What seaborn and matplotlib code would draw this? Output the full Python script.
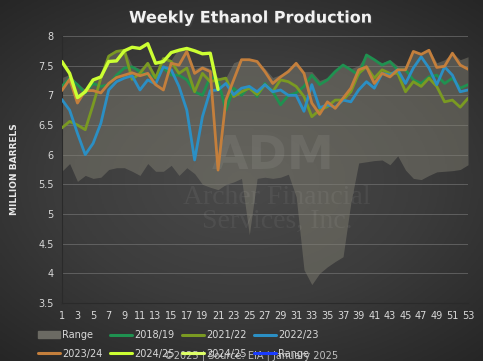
import numpy as np
import pandas as pd
import matplotlib
matplotlib.use("Agg")
import matplotlib.pyplot as plt
import seaborn as sns
from matplotlib.lines import Line2D
from matplotlib.patches import Patch
import matplotlib.patheffects as pe

# haftalik veriler (milyon varil)
weeks = list(range(1, 54))

range_low = [5.72, 5.85, 5.55, 5.65, 5.6, 5.62, 5.75, 5.78, 5.78, 5.72,
             5.65, 5.85, 5.72, 5.72, 5.82, 5.65, 5.78, 5.68, 5.5, 5.45,
             5.41, 5.5, 5.54, 5.6, 4.65, 5.6, 5.62, 5.6, 5.62, 5.67,
             5.29, 4.06, 3.81, 4.0, 4.11, 4.2, 4.28, 5.19, 5.86, 5.88,
             5.9, 5.91, 5.83, 5.98, 5.74, 5.6, 5.58, 5.65, 5.71, 5.72,
             5.73, 5.75, 5.83]
range_high = [7.3, 7.35, 7.2, 7.1, 7.25, 7.35, 7.7, 7.75, 7.78, 7.5,
              7.45, 7.55, 7.35, 7.65, 7.6, 7.8, 7.75, 7.45, 7.5, 7.45,
              7.3, 7.3, 7.55, 7.6, 7.6, 7.57, 7.45, 7.3, 7.35, 7.45,
              7.55, 7.4, 7.4, 7.25, 7.3, 7.4, 7.51, 7.45, 7.5, 7.7,
              7.6, 7.55, 7.6, 7.5, 7.5, 7.75, 7.72, 7.78, 7.55, 7.6,
              7.72, 7.6, 7.65]

y2018 = [7.15, 7.29, 7.18, 7.04, 7.2, 7.15, 7.18, 7.34, 7.46, 7.48,
         7.4, 7.34, 7.31, 7.46, 7.34, 7.34, 7.26, 7.06, 7.0, 7.31,
         7.26, 6.75, 7.12, 7.0, 7.15, 6.98, 7.2, 7.06, 6.84, 7.0,
         7.04, 7.15, 7.34, 7.18, 7.26, 7.4, 7.51, 7.43, 7.34, 7.68,
         7.6, 7.51, 7.57, 7.43, 7.43, 7.26, 7.2, 7.31, 7.34, 7.2,
         7.29, 7.12, 7.18]
y2021 = [6.45, 6.56, 6.5, 6.42, 6.84, 7.29, 7.66, 7.74, 7.76, 7.27,
         7.37, 7.54, 7.29, 7.62, 7.57, 7.37, 7.46, 7.06, 7.37, 7.23,
         7.26, 7.29, 6.98, 7.06, 7.12, 7.01, 7.18, 7.06, 7.26, 7.23,
         7.15, 6.98, 6.64, 6.75, 6.81, 6.92, 6.92, 7.06, 7.37, 7.48,
         7.29, 7.43, 7.37, 7.37, 7.06, 7.23, 7.15, 7.29, 7.15, 6.89,
         6.92, 6.8, 6.95]
y2022 = [6.93, 6.75, 6.36, 6.0, 6.19, 6.53, 7.09, 7.23, 7.29, 7.33,
         7.09, 7.26, 7.19, 7.48, 7.43, 7.15, 6.75, 5.91, 6.64, 7.08,
         7.09, 7.2, 7.01, 7.12, 7.15, 7.06, 7.18, 7.06, 7.09, 7.0,
         7.0, 6.73, 7.18, 6.79, 6.84, 6.8, 6.92, 6.89, 7.09, 7.23,
         7.12, 7.37, 7.34, 7.43, 7.2, 7.46, 7.65, 7.46, 7.18, 7.48,
         7.34, 7.06, 7.09]
y2023 = [7.08, 7.27, 6.87, 7.08, 7.08, 7.04, 7.2, 7.3, 7.34, 7.38,
         7.33, 7.37, 7.18, 7.09, 7.54, 7.51, 7.74, 7.37, 7.46, 7.4,
         5.74, 6.92, 7.26, 7.6, 7.6, 7.57, 7.4, 7.2, 7.31, 7.4,
         7.54, 7.37, 6.87, 6.68, 6.89, 6.78, 6.95, 7.12, 7.43, 7.48,
         7.2, 7.37, 7.31, 7.43, 7.43, 7.74, 7.69, 7.76, 7.47, 7.49,
         7.71, 7.51, 7.44]
weeks_2024 = list(range(1, 22))
y2024 = [7.57, 7.37, 6.96, 7.06, 7.26, 7.31, 7.57, 7.58, 7.75, 7.81,
         7.79, 7.87, 7.54, 7.57, 7.72, 7.76, 7.79, 7.75, 7.7, 7.71,
         7.1]

seasons = ['2018/19', '2021/22', '2022/23', '2023/24']
season_vals = [y2018, y2021, y2022, y2023]
season_colors = ['#1f9150', '#7a9a22', '#2b8fc4', '#c47f3c']

sns.set_style('white')
plt.rcParams['font.family'] = ['DejaVu Sans']

fig = plt.figure(figsize=(4.83, 3.61), dpi=100)

# koyu gradyan arka plan
bg = fig.add_axes([0, 0, 1, 1], zorder=-10)
yy, xx = np.mgrid[-1:1:200j, -1:1:200j]
rr = np.sqrt(xx ** 2 * 0.8 + yy ** 2)
bg.imshow(rr, cmap=matplotlib.colors.LinearSegmentedColormap.from_list(
    'bg', ['#4a4a4a', '#3c3c3c', '#262626']), extent=[0, 1, 0, 1],
    aspect='auto', vmin=0, vmax=1.35)
bg.axis('off')

ax = fig.add_axes([0.128, 0.1607, 0.841, 0.7396])
ax.set_facecolor('none')

ax.fill_between(weeks, range_low, range_high, color='#858375', alpha=0.45,
                linewidth=0, zorder=1)

for name, vals, col in zip(seasons, season_vals, season_colors):
    sns.lineplot(x=weeks, y=vals, color=col, linewidth=2.0, ax=ax, zorder=3)
sns.lineplot(x=weeks_2024, y=y2024, color='#ccff33', linewidth=2.4, ax=ax, zorder=4)

ax.set_xlim(1, 53)
ax.set_ylim(3.5, 8)
ax.set_yticks(np.arange(3.5, 8.01, 0.5))
ax.set_yticklabels(['3.5', '4', '4.5', '5', '5.5', '6', '6.5', '7', '7.5', '8'])
ax.set_xticks(range(1, 54, 2))
ax.tick_params(colors='#d9d9d9', labelsize=7, length=0, pad=6)
ax.grid(axis='y', color='#7a7a7a', linewidth=0.7, alpha=0.6)
ax.set_axisbelow(True)
for s in ['top', 'right']:
    ax.spines[s].set_visible(False)
ax.spines['left'].set_color('#2a2a2a')
ax.spines['bottom'].set_color('#2a2a2a')
ax.set_xlabel('')
ax.set_ylabel('MILLION BARRELS', color='#e8e8e8', fontsize=6.5, fontweight='bold', labelpad=14)

# filigran
ax.text(0.52, 0.55, 'ADM', transform=ax.transAxes, fontsize=34, fontweight='bold',
        color='white', alpha=0.07, ha='center', va='center', zorder=2)
ax.text(0.53, 0.35, 'Archer Financial\nServices, Inc.', transform=ax.transAxes,
        fontsize=20, family='Liberation Serif', color='white', alpha=0.06,
        ha='center', va='center', linespacing=0.95, zorder=2)

fig.text(0.52, 0.95, 'Weekly Ethanol Production', ha='center', va='center',
         fontsize=11.5, fontweight='bold', color='#f2f2f2',
         path_effects=[pe.withSimplePatchShadow(offset=(1, -1), alpha=0.6)])

handles = [Patch(color='#6b6a63'),
           Line2D([], [], color=season_colors[0], lw=2.2),
           Line2D([], [], color=season_colors[1], lw=2.2),
           Line2D([], [], color=season_colors[2], lw=2.2),
           Line2D([], [], color=season_colors[3], lw=2.2),
           Line2D([], [], color='#ccff33', lw=2.2),
           Line2D([], [], color='#ddff66', lw=2.2),
           Line2D([], [], color='#1a3cff', lw=2.2)]
labels = ['Range', '2018/19', '2021/22', '2022/23', '2023/24', '2024/25', '2024/25', 'Range']
order = [0, 4, 1, 5, 2, 6, 3, 7]
leg = fig.legend([handles[i] for i in order], [labels[i] for i in order], ncol=4,
                 loc='lower left', bbox_to_anchor=(0.06, -0.018), frameon=False,
                 fontsize=7, labelcolor='#d9d9d9', handlelength=2.3,
                 handletextpad=0.2, columnspacing=0.75, labelspacing=0.9)

fig.text(0.52, 0.014, '©2025 | Source: EIA | January 2025', ha='center', va='center',
         fontsize=7, color='#bfbfbf')

fig.savefig('out.png', dpi=100)
